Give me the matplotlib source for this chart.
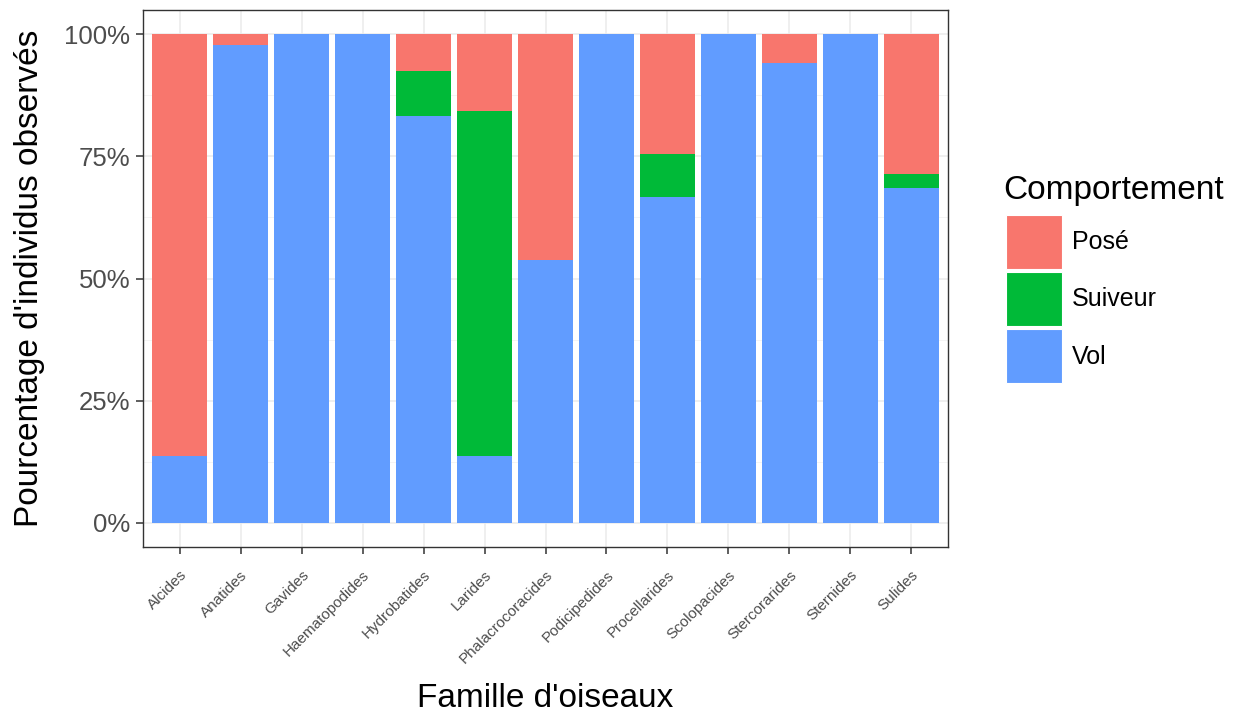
import matplotlib
matplotlib.use("Agg")
import matplotlib.pyplot as plt
from matplotlib.patches import Patch
from matplotlib.ticker import FixedLocator, PercentFormatter
import numpy as np

plt.rcParams['font.family'] = ['Liberation Sans', 'DejaVu Sans']

familles = ["Alcides", "Anatides", "Gavides", "Haematopodides", "Hydrobatides",
            "Larides", "Phalacrocoracides", "Podicipedides", "Procellarides",
            "Scolopacides", "Stercorarides", "Sternides", "Sulides"]

# Proportions (%) per behaviour, stacked Vol (bottom), Suiveur, Posé (top)
vol     = [13.6, 97.9, 100.0, 100.0, 83.3, 13.6, 53.7, 100.0, 66.7, 100.0, 94.1, 100.0, 68.6]
suiveur = [0.0,  0.0,  0.0,   0.0,   9.3,  70.8, 0.0,  0.0,   8.9,  0.0,   0.0,  0.0,   2.9]
pose    = [86.4, 2.1,  0.0,   0.0,   7.4,  15.6, 46.3, 0.0,   24.4, 0.0,   5.9,  0.0,   28.5]

comportements = ["Posé", "Suiveur", "Vol"]
couleurs = {"Posé": "#F8766D", "Suiveur": "#00BA38", "Vol": "#619CFF"}

W, H = 1238, 716
fig = plt.figure(figsize=(W / 100, H / 100), dpi=100)
ax = fig.add_axes([143 / W, 1 - 547 / H, (948 - 143) / W, (547 - 10) / H])

x = np.arange(len(familles))
v = np.array(vol) / 100
s = np.array(suiveur) / 100
p = np.array(pose) / 100
w = 0.9
ax.bar(x, v, width=w, color=couleurs["Vol"], zorder=3)
ax.bar(x, s, width=w, bottom=v, color=couleurs["Suiveur"], zorder=3)
ax.bar(x, p, width=w, bottom=v + s, color=couleurs["Posé"], zorder=3)

ax.set_xlim(-0.6, len(familles) - 0.4)
ax.set_ylim(-0.05, 1.05)

ax.yaxis.set_major_locator(FixedLocator([0, 0.25, 0.5, 0.75, 1.0]))
ax.yaxis.set_minor_locator(FixedLocator([0.125, 0.375, 0.625, 0.875]))
ax.yaxis.set_major_formatter(PercentFormatter(1.0, decimals=0))
ax.set_xticks(x)
ax.set_xticklabels(familles, rotation=45, ha="right", rotation_mode="anchor",
                   fontsize=11, color="#4D4D4D")

ax.grid(True, which="major", color="#EBEBEB", linewidth=1.1, zorder=0)
ax.grid(True, which="minor", axis="y", color="#F3F3F3", linewidth=0.6, zorder=0)
ax.set_axisbelow(True)

for sp in ax.spines.values():
    sp.set_color("#333333")
    sp.set_linewidth(1.0)

ax.tick_params(axis="y", which="major", length=5, width=1.1, color="#333333",
               labelsize=18.5, labelcolor="#4D4D4D", pad=4)
ax.tick_params(axis="x", which="major", length=5, width=1.1, color="#333333", pad=10)
ax.tick_params(which="minor", length=0)

ax.set_ylabel("Pourcentage d'individus observés", fontsize=24, labelpad=14)
ax.set_xlabel("Famille d'oiseaux", fontsize=24)
ax.xaxis.set_label_coords(0.5, (547 - 683) / 537)

# Legend: title placed as its own text, keys stacked below it
fig.text(1003 / W, 1 - 199 / H, "Comportement", fontsize=24, ha="left", va="baseline")
handles = [Patch(facecolor=couleurs[c], edgecolor="white", linewidth=0.8) for c in comportements]
leg = fig.legend(handles, comportements,
                 loc="upper left", bbox_to_anchor=(1006 / W, 1 - 215 / H),
                 frameon=False, fontsize=18,
                 handlelength=2.25, handleheight=2.95, handletextpad=0.4,
                 labelspacing=0.12, borderaxespad=0, borderpad=0)

fig.savefig("out.png", dpi=100)
